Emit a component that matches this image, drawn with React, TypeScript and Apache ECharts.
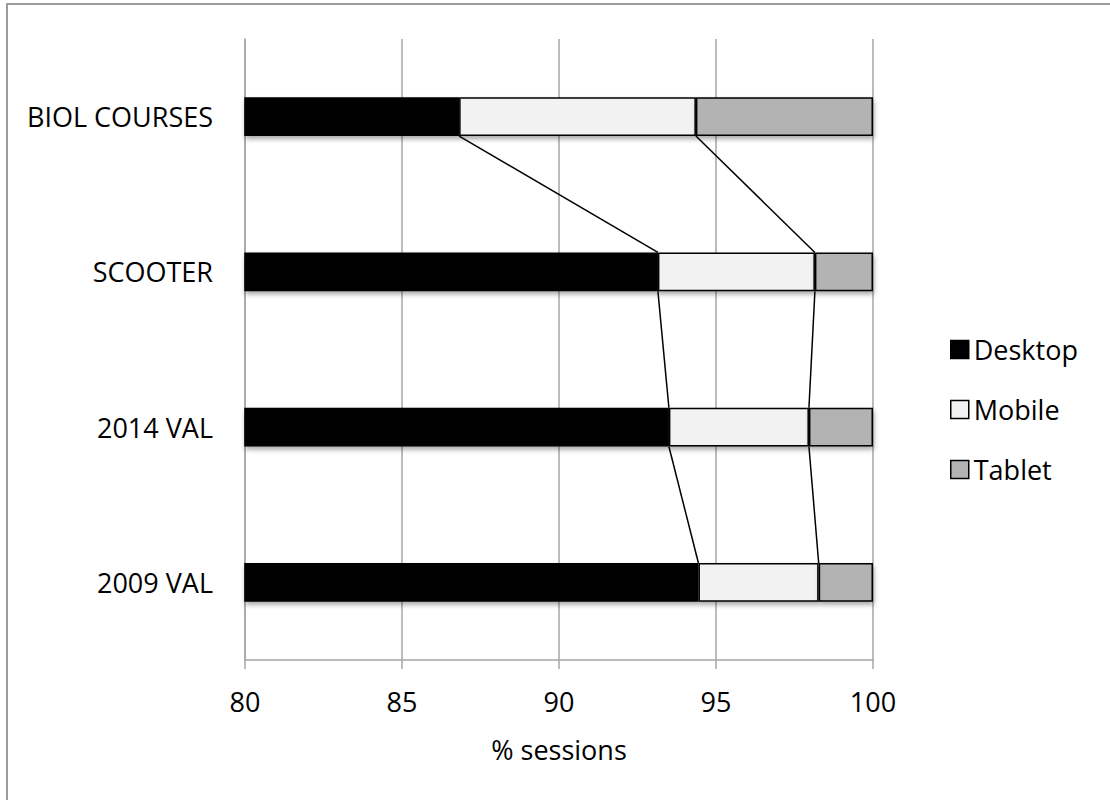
import React, { useEffect, useRef } from "react";
import * as echarts from "echarts";

const categories = ["2009 VAL", "2014 VAL", "SCOOTER", "BIOL COURSES"];
const desktop = [94.44, 93.5, 93.15, 86.82];
const mobile = [3.83, 4.46, 5.0, 7.54];
const tablet = [1.73, 2.04, 1.85, 5.64];
const seriesNames = ["Desktop", "Mobile", "Tablet"];
const xTicks = [80, 85, 90, 95, 100];
const axisTitle = "% sessions";

const FONT = "'Open Sans', sans-serif";

export default function App() {
  const ref = useRef<HTMLDivElement>(null);
  useEffect(() => {
    if (!ref.current) return;
    const chart = echarts.init(ref.current, null, { renderer: "svg" });

    const dEnd = desktop.slice();
    const mEnd = desktop.map((d, i) => d + mobile[i]);
    const connectors: number[][] = [];
    for (let i = 0; i < categories.length - 1; i++) {
      connectors.push([dEnd[i], i, dEnd[i + 1], i + 1]);
      connectors.push([mEnd[i], i, mEnd[i + 1], i + 1]);
    }

    const shadow = {
      shadowColor: "rgba(0,0,0,0.35)",
      shadowBlur: 5,
      shadowOffsetX: 1,
      shadowOffsetY: 3,
    };
    const colors = ["#000000", "#f2f2f2", "#b3b3b3"];
    const values = [desktop, mobile, tablet];

    chart.setOption({
      animation: false,
      textStyle: { fontFamily: FONT },
      grid: { left: 245, right: 237, top: 39, bottom: 140, containLabel: false },
      legend: {
        data: seriesNames,
        orient: "vertical",
        left: 945,
        top: 331,
        icon: "rect",
        itemWidth: 18,
        itemHeight: 18,
        itemGap: 33,
        textStyle: { fontFamily: FONT, fontSize: 27, color: "#000" },
        itemStyle: {
          borderColor: "#000",
          borderWidth: 1.5,
          shadowBlur: 0,
          shadowOffsetX: 0,
          shadowOffsetY: 0,
          shadowColor: "transparent",
        },
      },
      graphic: [
        {
          type: "rect",
          z: -10,
          silent: true,
          shape: { x: 7, y: 4, width: 1400, height: 1200 },
          style: { fill: "none", stroke: "#9c9c9c", lineWidth: 2 },
        },
      ],
      xAxis: {
        type: "value",
        min: xTicks[0],
        max: xTicks[xTicks.length - 1],
        interval: xTicks[1] - xTicks[0],
        name: axisTitle,
        nameLocation: "middle",
        nameGap: 76,
        nameTextStyle: { fontFamily: FONT, fontSize: 27, color: "#000" },
        axisLine: { show: true, lineStyle: { color: "#a6a6a6", width: 1.5 } },
        axisTick: { show: true, length: 9, lineStyle: { color: "#a6a6a6", width: 1.5 } },
        axisLabel: { fontFamily: FONT, fontSize: 27, color: "#000", margin: 28 },
        splitLine: { show: true, lineStyle: { color: "#a6a6a6", width: 1.5 } },
      },
      yAxis: {
        type: "category",
        data: categories,
        axisLine: { show: true, lineStyle: { color: "#a6a6a6", width: 1.5 } },
        axisTick: { show: false },
        axisLabel: { fontFamily: FONT, fontSize: 27, color: "#000", margin: 32 },
        splitLine: { show: false },
      },
      series: [
        ...seriesNames.map((name, k) => ({
          name,
          type: "bar",
          stack: "total",
          barWidth: "25%",
          data: values[k],
          itemStyle: {
            color: colors[k],
            borderColor: "#000",
            borderWidth: 1.5,
            ...shadow,
          },
          emphasis: { disabled: true },
        })),
        {
          type: "custom",
          name: "lines",
          clip: false,
          z: 5,
          silent: true,
          encode: { x: [0, 2], y: [1, 3] },
          data: connectors,
          renderItem: (params: any, api: any) => {
            const p0 = api.coord([api.value(0), api.value(1)]);
            const p1 = api.coord([api.value(2), api.value(3)]);
            const half = api.size([0, 1])[1] * 0.125;
            return {
              type: "line",
              shape: { x1: p0[0], y1: p0[1] - half, x2: p1[0], y2: p1[1] + half },
              style: { stroke: "#000", lineWidth: 1.5 },
            };
          },
        },
      ],
    });
    return () => chart.dispose();
  }, []);
  return (
    <div
      ref={ref}
      style={{ position: "fixed", left: 0, top: 0, width: 1110, height: 800, background: "#fff" }}
    />
  );
}
